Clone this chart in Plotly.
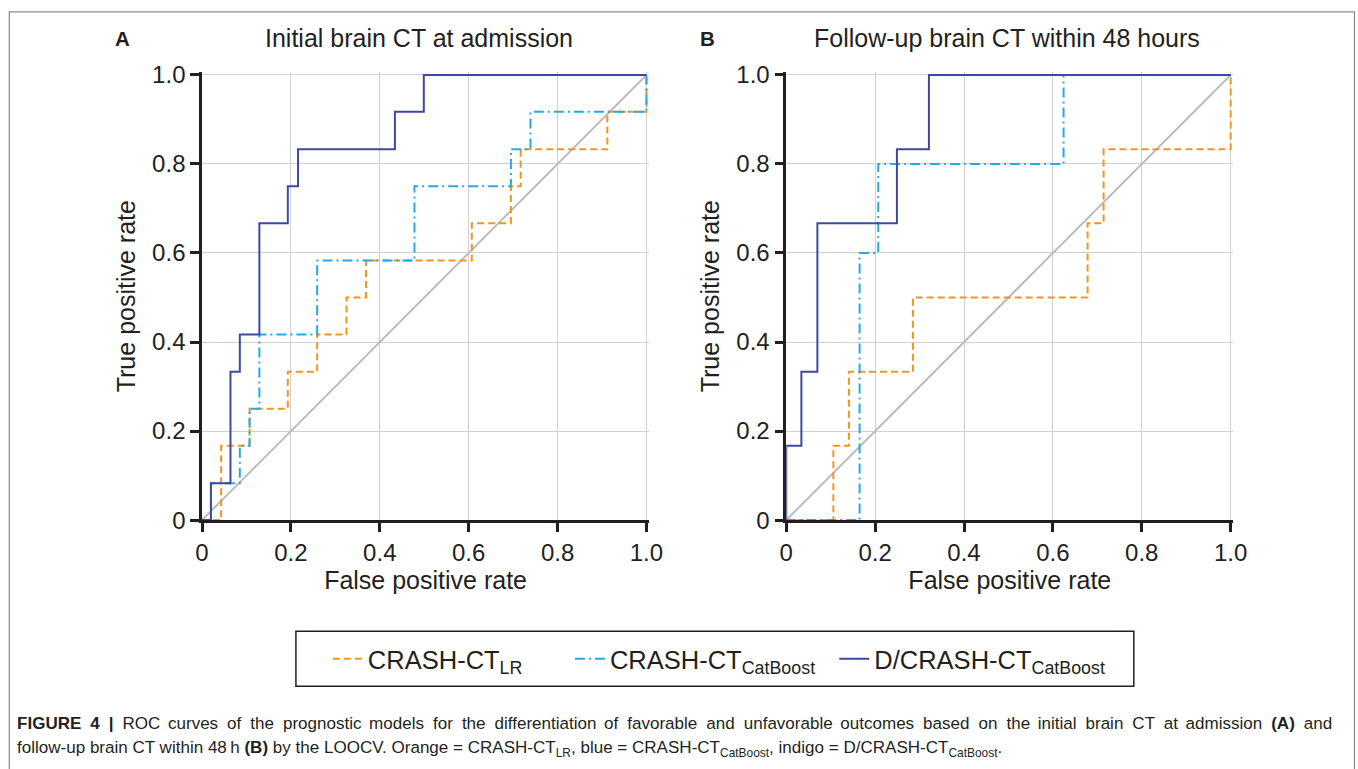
import plotly.graph_objects as go

# ---------------- data ----------------
tick_vals = [0, 0.2, 0.4, 0.6, 0.8, 1.0]
tick_text = ["0", "0.2", "0.4", "0.6", "0.8", "1.0"]

diag = [0, 1]

# Panel A - Initial brain CT at admission
a_lr_fpr = [0, 0.043, 0.043, 0.107, 0.107, 0.193, 0.193, 0.259, 0.259, 0.325, 0.325, 0.369,
            0.369, 0.607, 0.607, 0.695, 0.695, 0.717, 0.717, 0.912, 0.912, 1.0, 1.0]
a_lr_tpr = [0, 0, 0.167, 0.167, 0.25, 0.25, 0.333, 0.333, 0.417, 0.417, 0.5, 0.5,
            0.583, 0.583, 0.667, 0.667, 0.75, 0.75, 0.833, 0.833, 0.917, 0.917, 1.0]

a_cb_fpr = [0, 0.02, 0.02, 0.085, 0.085, 0.107, 0.107, 0.129, 0.129, 0.259, 0.259, 0.478,
            0.478, 0.695, 0.695, 0.739, 0.739, 1.0, 1.0]
a_cb_tpr = [0, 0, 0.083, 0.083, 0.167, 0.167, 0.25, 0.25, 0.417, 0.417, 0.583, 0.583,
            0.75, 0.75, 0.833, 0.833, 0.917, 0.917, 1.0]

a_dcb_fpr = [0, 0.02, 0.02, 0.064, 0.064, 0.085, 0.085, 0.129, 0.129, 0.193, 0.193, 0.216,
             0.216, 0.434, 0.434, 0.499, 0.499, 1.0]
a_dcb_tpr = [0, 0, 0.083, 0.083, 0.333, 0.333, 0.417, 0.417, 0.667, 0.667, 0.75, 0.75,
             0.833, 0.833, 0.917, 0.917, 1.0, 1.0]

# Panel B - Follow-up brain CT within 48 hours
b_lr_fpr = [0, 0.106, 0.106, 0.141, 0.141, 0.285, 0.285, 0.678, 0.678, 0.714, 0.714, 1.0, 1.0]
b_lr_tpr = [0, 0, 0.167, 0.167, 0.333, 0.333, 0.5, 0.5, 0.667, 0.667, 0.833, 0.833, 1.0]

b_cb_fpr = [0, 0.165, 0.165, 0.207, 0.207, 0.624, 0.624, 1.0]
b_cb_tpr = [0, 0, 0.6, 0.6, 0.8, 0.8, 1.0, 1.0]

b_dcb_fpr = [0, 0, 0.034, 0.034, 0.070, 0.070, 0.249, 0.249, 0.321, 0.321, 1.0]
b_dcb_tpr = [0, 0.167, 0.167, 0.333, 0.333, 0.667, 0.667, 0.833, 0.833, 1.0, 1.0]

series_names = ["CRASH-CT<sub>LR</sub>", "CRASH-CT<sub>CatBoost</sub>", "D/CRASH-CT<sub>CatBoost</sub>"]
series_colors = ["#f7941d", "#27aae1", "#3d4a9e"]
series_dash = ["7px,4px", "10px,4px,2px,4px", "solid"]
legend_pad = [6, 2, 0]  # trailing non-breaking spaces to space the legend entries

panel_letters = ["A", "B"]
panel_titles = ["Initial brain CT at admission", "Follow-up brain CT within 48 hours"]
x_title = "False positive rate"
y_title = "True positive rate"

caption1_words = ["<b>FIGURE", "4", "|</b>", "ROC", "curves", "of", "the", "prognostic", "models",
                  "for", "the", "differentiation", "of", "favorable", "and", "unfavorable",
                  "outcomes", "based", "on", "the", "initial", "brain", "CT", "at", "admission",
                  "<b>(A)</b>", "and"]
caption2 = ("follow-up brain CT within 48\u2009h <b>(B)</b> by the LOOCV. Orange = CRASH-CT<sub>LR</sub>, "
            "blue = CRASH-CT<sub>CatBoost</sub>, indigo = D/CRASH-CT<sub>CatBoost</sub>.")

# ---------------- layout geometry ----------------
# target positions are given in picture pixels; the page is photographed with a slight
# scale/offset, which the helpers below compensate
SX, SY, OX, OY = 0.986, 0.969, 5.7, 10.1
W, H = 1372, 784


def px(X):
    return (X - OX) / SX


def py(Y):
    return (Y - OY) / SY


def fx(X):
    return px(X) / W


def fy(Y):
    return 1 - py(Y) / H


FONT = "Liberation Sans, Arial, Helvetica, sans-serif"
INK = "#231f20"
RMAX = 1.006
ax_left = [201, 786]
ax_right = [646, 1231]
ax_top, ax_bottom = 74, 519


def xdom(p):
    l, r = px(ax_left[p]), px(ax_right[p])
    return [l / W, (l + (r - l) * RMAX) / W]


yb, yt = py(ax_bottom), py(ax_top)
ydom = [1 - yb / H, 1 - (yb - (yb - yt) * RMAX) / H]

fig = go.Figure()

panels = [
    ([a_lr_fpr, a_cb_fpr, a_dcb_fpr], [a_lr_tpr, a_cb_tpr, a_dcb_tpr]),
    ([b_lr_fpr, b_cb_fpr, b_dcb_fpr], [b_lr_tpr, b_cb_tpr, b_dcb_tpr]),
]

for p, (xs, ys) in enumerate(panels):
    xa = "x" if p == 0 else "x2"
    ya = "y" if p == 0 else "y2"
    fig.add_trace(go.Scatter(x=diag, y=diag, mode="lines", xaxis=xa, yaxis=ya,
                             line=dict(color="#bcbcbc", width=2), showlegend=False,
                             hoverinfo="skip"))
    for i in range(3):
        fig.add_trace(go.Scatter(x=xs[i], y=ys[i], mode="lines", xaxis=xa, yaxis=ya,
                                 name=series_names[i] + "\u00a0" * legend_pad[i],
                                 line=dict(color=series_colors[i], width=2, dash=series_dash[i]),
                                 showlegend=(p == 0)))

axis_common = dict(
    range=[0, RMAX], tickvals=tick_vals, ticktext=tick_text,
    showgrid=True, gridcolor="#d0d0d0", gridwidth=1.3, zeroline=False,
    showline=True, linecolor=INK, linewidth=2.5,
    ticks="outside", ticklen=9, tickwidth=2.5, tickcolor=INK,
    tickfont=dict(family=FONT, size=24, color=INK),
    fixedrange=True,
)

title_font = dict(size=25, family=FONT, color=INK)
fig.update_layout(
    width=W, height=H,
    margin=dict(l=0, r=0, t=0, b=0),
    paper_bgcolor="white", plot_bgcolor="white",
    font=dict(family=FONT, color=INK),
    xaxis=dict(domain=xdom(0), anchor="y",
               title=dict(text=x_title, font=title_font, standoff=7), **axis_common),
    yaxis=dict(domain=ydom, anchor="x",
               title=dict(text=y_title, font=title_font, standoff=10), **axis_common),
    xaxis2=dict(domain=xdom(1), anchor="y2",
                title=dict(text=x_title, font=title_font, standoff=7), **axis_common),
    yaxis2=dict(domain=ydom, anchor="x2",
                title=dict(text=y_title, font=title_font, standoff=10), **axis_common),
    legend=dict(orientation="h", x=fx(327), xanchor="left", y=fy(658), yanchor="middle",
                font=dict(family=FONT, size=25.5, color=INK), bgcolor="rgba(0,0,0,0)",
                borderwidth=0, itemwidth=30),
    showlegend=True,
)

# outer frame and legend box
fig.add_shape(type="rect", xref="paper", yref="paper", x0=fx(8), x1=fx(1355),
              y0=-0.05, y1=1 - 0.8 / H, line=dict(color="#8a8a8a", width=1.2), layer="below")
fig.add_shape(type="rect", xref="paper", yref="paper", x0=fx(295), x1=fx(1134),
              y0=fy(685), y1=fy(630), line=dict(color=INK, width=1.5))

# panel letters and titles
letter_x = [121, 707]
title_x = [418, 1007]
for p in range(2):
    fig.add_annotation(x=fx(letter_x[p]), y=fy(38), xref="paper", yref="paper",
                       text="<b>" + panel_letters[p] + "</b>", showarrow=False,
                       xanchor="center", yanchor="middle",
                       font=dict(family=FONT, size=20.5, color=INK))
    fig.add_annotation(x=fx(title_x[p]), y=fy(37), xref="paper", yref="paper",
                       text=panel_titles[p], showarrow=False,
                       xanchor="center", yanchor="middle",
                       font=dict(family=FONT, size=25, color=INK))

# caption (first line justified to full width like the journal layout)
gaps = [" \u2006" if k % 4 == 3 else " \u2005" for k in range(len(caption1_words) - 1)]
caption1 = caption1_words[0] + "".join(g + w for g, w in zip(gaps, caption1_words[1:]))
fig.add_annotation(x=fx(14), y=fy(722), xref="paper", yref="paper", text=caption1,
                   showarrow=False, xanchor="left", yanchor="middle", align="left",
                   font=dict(family=FONT, size=17.05, color=INK))
fig.add_annotation(x=fx(14), y=fy(748), xref="paper", yref="paper", text=caption2,
                   showarrow=False, xanchor="left", yanchor="middle", align="left",
                   font=dict(family=FONT, size=17.05, color=INK))

post = ("document.documentElement.style.margin='0';document.documentElement.style.padding='0';"
        "document.documentElement.style.overflow='hidden';"
        "document.body.style.margin='0';document.body.style.padding='0';"
        "document.body.style.overflow='hidden';"
        "var d=document.getElementById('{plot_id}');d.style.position='absolute';"
        "d.style.left='0px';d.style.top='0px';")

fig.write_html("out.html", post_script=post, config={"displayModeBar": False})
